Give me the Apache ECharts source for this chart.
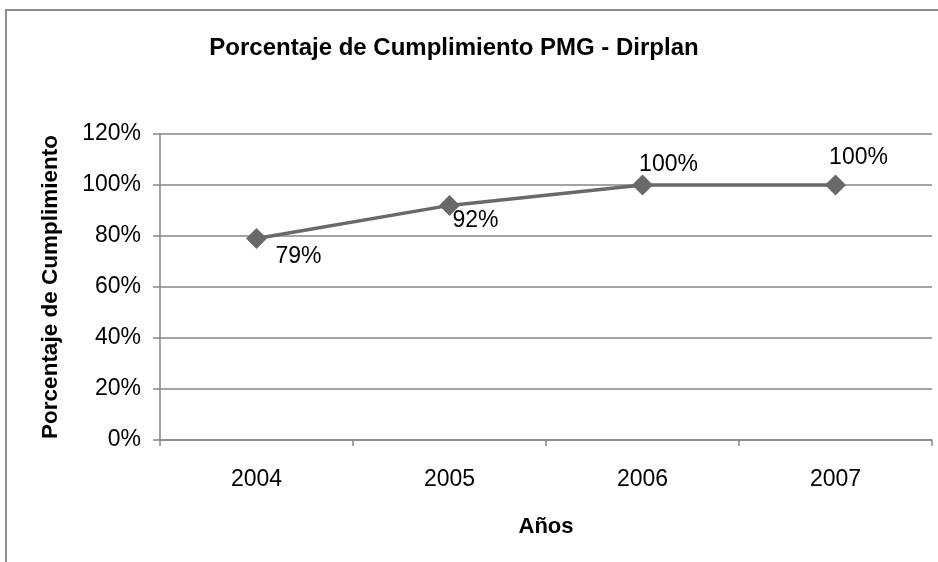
<!DOCTYPE html>
<html>
<head>
<meta charset="utf-8">
<script src="https://cdn.jsdelivr.net/npm/echarts@6/dist/echarts.min.js"></script>
<style>
html,body{margin:0;padding:0;background:#fff;}
#c{width:938px;height:562px;}
</style>
</head>
<body>
<div id="c"></div>
<script>
var titleText = 'Porcentaje de Cumplimiento PMG - Dirplan';
var years = ['2004', '2005', '2006', '2007'];
var cumplimiento = [79, 92, 100, 100];
var yTicks = [0, 20, 40, 60, 80, 100, 120];
var yAxisName = 'Porcentaje de Cumplimiento';
var xAxisName = 'Años';

var labelOffsets = [[42, 18], [26, 15], [26, -20], [23, -27]];
var FONT = '"Liberation Sans", Arial, sans-serif';

var chart = echarts.init(document.getElementById('c'), null, {renderer: 'canvas'});
chart.setOption({
  animation: false,
  backgroundColor: '#fff',
  graphic: [{
    type: 'rect',
    shape: {x: 6, y: 10, width: 2000, height: 2000},
    style: {fill: 'none', stroke: '#8c8c8c', lineWidth: 2},
    silent: true, z: -1
  }],
  title: {
    text: titleText,
    left: 449, top: 31, textAlign: 'center',
    textStyle: {fontFamily: FONT, fontWeight: 'bold', fontSize: 24, color: '#000'}
  },
  grid: {left: 160, right: 6, top: 134, bottom: 122, containLabel: false},
  xAxis: {
    type: 'category',
    data: years,
    boundaryGap: true,
    name: xAxisName,
    nameLocation: 'middle',
    nameGap: 76,
    nameTextStyle: {fontFamily: FONT, fontWeight: 'bold', fontSize: 22, color: '#000'},
    axisLine: {show: true, lineStyle: {color: '#868686', width: 1.5}},
    axisTick: {show: true, alignWithLabel: false, length: 6, lineStyle: {color: '#868686', width: 1.5}},
    axisLabel: {fontFamily: FONT, fontSize: 23, color: '#000', margin: 28},
    splitLine: {show: false}
  },
  yAxis: {
    type: 'value',
    min: yTicks[0], max: yTicks[yTicks.length - 1], interval: yTicks[1] - yTicks[0],
    name: yAxisName,
    nameLocation: 'middle',
    nameRotate: 90,
    nameGap: 98,
    nameTextStyle: {fontFamily: FONT, fontWeight: 'bold', fontSize: 22.5, color: '#000'},
    axisLine: {show: true, lineStyle: {color: '#868686', width: 1.5}},
    axisTick: {show: true, length: 7, lineStyle: {color: '#868686', width: 1.5}},
    axisLabel: {fontFamily: FONT, fontSize: 23, color: '#000', margin: 19, formatter: function (v) { return v + '%'; }},
    splitLine: {show: true, lineStyle: {color: '#868686', width: 1.5}}
  },
  series: [{
    type: 'line',
    data: cumplimiento.map(function (v, i) {
      return {
        value: v,
        label: {position: 'inside', offset: labelOffsets[i]}
      };
    }),
    symbol: 'diamond',
    symbolSize: 21,
    itemStyle: {color: '#696969'},
    lineStyle: {color: '#696969', width: 3.5},
    label: {
      show: true,
      fontFamily: FONT, fontSize: 23, color: '#000',
      formatter: function (p) { return p.value + '%'; }
    }
  }]
});
</script>
</body>
</html>
